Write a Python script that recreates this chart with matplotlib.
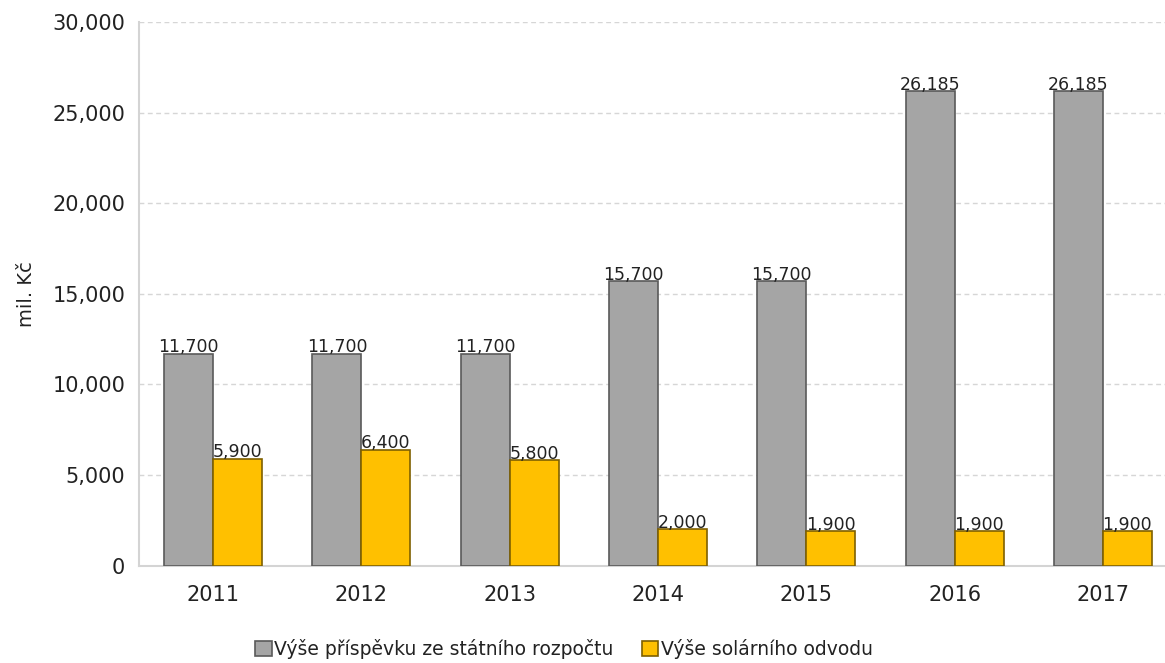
#!/usr/bin/env python3

import matplotlib
matplotlib.use('Agg')
import matplotlib.pyplot as plt
from matplotlib.patches import Patch
from matplotlib.ticker import FuncFormatter
import numpy


years = ['2011', '2012', '2013', '2014', '2015', '2016', '2017']
state_budget = [11700, 11700, 11700, 15700, 15700, 26185, 26185]
solar_levy = [5900, 6400, 5800, 2000, 1900, 1900, 1900]
series_names = ['Výše příspěvku ze státního rozpočtu', 'Výše solárního odvodu']
y_ticks = [0, 5000, 10000, 15000, 20000, 25000, 30000]

gray = '#A5A5A5'
gray_edge = '#5A5A5A'
gold = '#FFC000'
gold_edge = '#7F6000'
bar_width = 0.33


def main():
    plt.rcParams['font.family'] = ['DejaVu Sans']
    fig = plt.figure(figsize=(11.65, 6.63), dpi=100)
    ax = fig.add_axes([0.1193, 0.147, 0.891, 0.8198])

    x = numpy.arange(len(years))
    bars1 = ax.bar(x - bar_width / 2, state_budget, bar_width, color=gray,
                   edgecolor=gray_edge, linewidth=1.2, zorder=3)
    bars2 = ax.bar(x + bar_width / 2, solar_levy, bar_width, color=gold,
                   edgecolor=gold_edge, linewidth=1.2, zorder=3)

    for bars in (bars1, bars2):
        for b in bars:
            ax.annotate('{:,}'.format(int(b.get_height())),
                        (b.get_x() + b.get_width() / 2, b.get_height()),
                        ha='center', va='bottom', fontsize=12.5,
                        color='#222222', xytext=(0, -2),
                        textcoords='offset points', zorder=4)

    ax.set_xlim(-0.5, len(years) - 0.5)
    ax.set_ylim(0, 30000)
    ax.set_xticks(x)
    ax.set_xticklabels(years)
    ax.set_yticks(y_ticks)
    ax.yaxis.set_major_formatter(FuncFormatter(lambda v, p: '{:,}'.format(int(v))))
    ax.tick_params(axis='both', length=0, labelsize=15, colors='#222222')
    ax.tick_params(axis='y', pad=10)
    ax.tick_params(axis='x', pad=14)

    ax.grid(axis='y', color='#D6D6D6', linestyle=(0, (3.5, 2.5)), linewidth=1.0, zorder=0)
    for side in ('top', 'right'):
        ax.spines[side].set_visible(False)
    for side in ('left', 'bottom'):
        ax.spines[side].set_color('#D4D4D4')
        ax.spines[side].set_linewidth(1.5)

    ax.set_ylabel('mil. Kč', fontsize=14, color='#222222', labelpad=12)

    handles = [Patch(facecolor=gray, edgecolor=gray_edge, linewidth=1.2),
               Patch(facecolor=gold, edgecolor=gold_edge, linewidth=1.2)]
    fig.legend(handles, series_names, loc='center', bbox_to_anchor=(0.484, 0.021),
               ncol=2, frameon=False, fontsize=13.5, handlelength=0.9,
               handleheight=0.9, handletextpad=0.12, columnspacing=1.5,
               labelcolor='#222222')

    fig.savefig('out.png', dpi=100)


if __name__ == '__main__':
    main()
